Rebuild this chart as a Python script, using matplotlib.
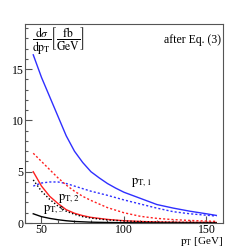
import matplotlib as mpl
mpl.use("Agg")
import matplotlib.pyplot as plt
from matplotlib.ticker import MultipleLocator

plt.rcParams['font.family'] = ['Liberation Serif', 'DejaVu Serif']
plt.rcParams['mathtext.fontset'] = 'stix'

pt1_x = [45, 50, 55, 60, 65, 70, 75, 80, 85, 90, 95, 100, 110, 120, 130, 140, 150, 156]
pt1_solid = [16.4, 14.2, 12.3, 10.4, 8.5, 7.0, 5.9, 5.0, 4.4, 3.85, 3.4, 3.0, 2.4, 1.8, 1.45, 1.15, 0.9, 0.74]
pt1_dot_x = [45, 50, 55, 60, 65, 70, 75, 80, 90, 100, 110, 120, 130, 140, 150, 156]
pt1_dot = [3.6, 3.9, 4.0, 4.0, 3.85, 3.6, 3.35, 3.1, 2.7, 2.25, 1.85, 1.45, 1.1, 0.9, 0.76, 0.68]

pt2_dot_x = [45, 50, 55, 60, 65, 70, 75, 80, 90, 100, 110, 120, 130, 140, 150, 156]
pt2_dot = [6.8, 6.0, 5.2, 4.4, 3.7, 3.1, 2.6, 2.2, 1.5, 1.0, 0.65, 0.45, 0.33, 0.25, 0.19, 0.16]
pt2_x = [45, 50, 55, 60, 65, 70, 75, 80, 90, 100, 110, 120, 135, 156]
pt2_solid = [5.0, 3.6, 2.6, 1.9, 1.3, 0.95, 0.72, 0.55, 0.35, 0.22, 0.15, 0.1, 0.07, 0.05]

pt3_x = [45, 50, 55, 60, 65, 70, 75, 80, 90, 100, 110, 120, 135, 156]
pt3_dot = [4.2, 3.1, 2.3, 1.65, 1.15, 0.85, 0.62, 0.48, 0.3, 0.2, 0.13, 0.09, 0.06, 0.04]
pt3_solid_x = [45, 50, 55, 60, 65, 70, 80, 90, 100, 120, 156]
pt3_solid = [0.9, 0.62, 0.45, 0.32, 0.22, 0.15, 0.08, 0.05, 0.03, 0.015, 0.005]

blue = '#2f2fff'
red = '#ff1f1f'

fig = plt.figure(figsize=(2.48, 2.49), dpi=100)
ax = fig.add_axes([0.1008, 0.1044, 0.798, 0.799])

ax.plot(pt1_x, pt1_solid, color=blue, lw=1.0)
ax.plot(pt1_dot_x, pt1_dot, color=blue, lw=1.0, ls=(0, (1.5, 1.5)))
ax.plot(pt2_dot_x, pt2_dot, color=red, lw=1.0, ls=(0, (1.5, 1.5)))
ax.plot(pt2_x, pt2_solid, color=red, lw=1.0)
ax.plot(pt3_x, pt3_dot, color='black', lw=1.0, ls=(0, (1, 1.5)))
ax.plot(pt3_solid_x, pt3_solid, color='black', lw=1.0)

ax.set_xlim(40, 160)
ax.set_ylim(0, 19.4)
ax.xaxis.set_major_locator(MultipleLocator(50))
ax.xaxis.set_minor_locator(MultipleLocator(10))
ax.yaxis.set_major_locator(MultipleLocator(5))
ax.yaxis.set_minor_locator(MultipleLocator(1))
ax.tick_params(which='both', direction='in', colors='#555555', labelcolor='black',
               labelsize=8.5, pad=1)
ax.tick_params(which='major', length=5, width=0.8)
ax.tick_params(which='minor', length=2.5, width=0.8)
for s in ax.spines.values():
    s.set_color('#555555')
    s.set_linewidth(0.8)

ax.text(0.035, 0.995,
        r'$\dfrac{\mathrm{d}\sigma}{\mathrm{dp}_{\mathrm{T}}}\left[\dfrac{\mathrm{fb}}{\mathrm{GeV}}\right]$',
        transform=ax.transAxes, ha='left', va='top', fontsize=8.5)
ax.text(0.99, 0.92, 'after Eq. (3)', transform=ax.transAxes, ha='right', va='center', fontsize=8.5)

ax.text(104, 3.9, r'$\mathrm{p}_{\mathrm{T,1}}$', fontsize=9, ha='left', va='center')
ax.text(60, 2.4, r'$\mathrm{p}_{\mathrm{T,2}}$', fontsize=9, ha='left', va='center')
ax.text(51, 1.3, r'$\mathrm{p}_{\mathrm{T,3}}$', fontsize=9, ha='left', va='center')

fig.text(0.9, 0.004, r'$\mathrm{p}_{\mathrm{T}}$ [GeV]', ha='right', va='bottom', fontsize=8)

fig.savefig("out.png", dpi=100)
